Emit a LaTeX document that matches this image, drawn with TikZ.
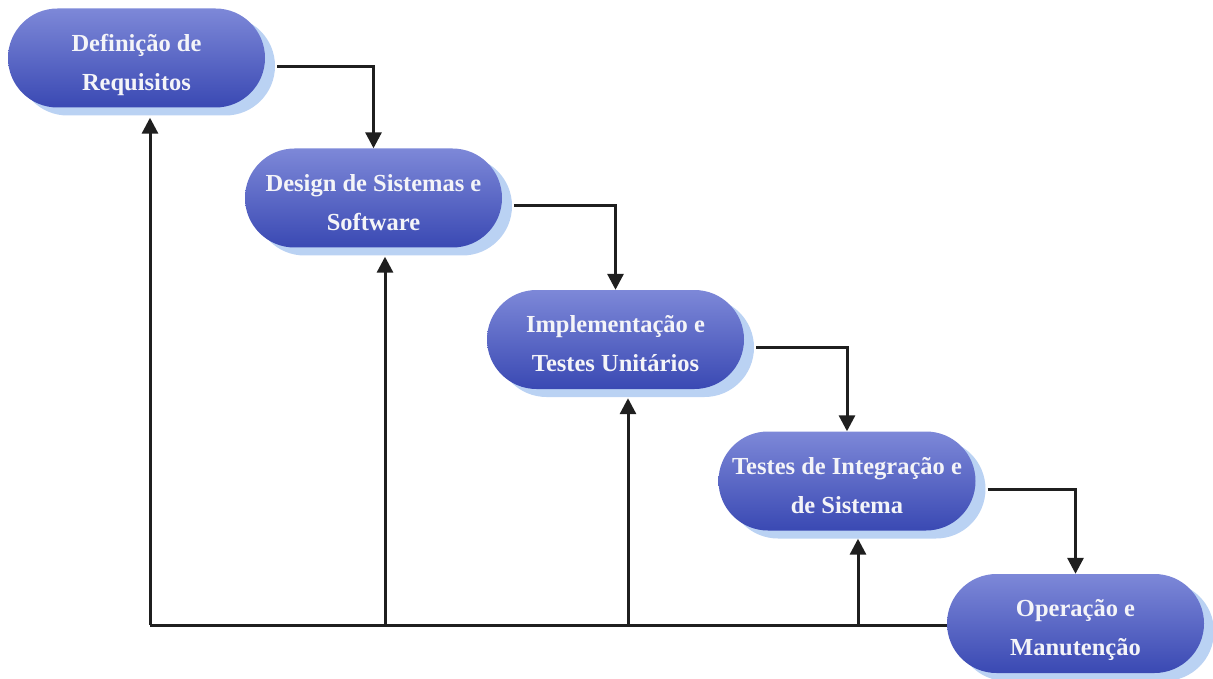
\documentclass[tikz,border=0pt]{standalone}
\usepackage{fontspec}
\setmainfont{Liberation Serif}
\usetikzlibrary{arrows.meta,shadows,calc}
\definecolor{boxtop}{HTML}{7D88D8}
\definecolor{boxbot}{HTML}{3A49B3}
\definecolor{shadowc}{HTML}{B3CDF2}
\definecolor{txt}{HTML}{F4F4F8}
\newcommand{\twolines}[2]{\raisebox{-5pt}[\height][\depth]{\begin{tabular}{@{}c@{}}#1\\#2\end{tabular}}}
\tikzset{
  phase/.style={rounded corners=49.5pt, minimum width=257pt, minimum height=99pt,
    top color=boxtop, bottom color=boxbot, draw=none, text=txt,
    font=\bfseries\fontsize{24.5}{39}\selectfont, inner sep=0pt,
    drop shadow={shadow xshift=10pt, shadow yshift=-8pt, fill=shadowc, opacity=0.9}},
  conn/.style={line width=3pt, draw=black!88, -{Triangle[width=16pt,length=16pt]}},
  plain/.style={line width=3pt, draw=black!88}
}
\begin{document}
\begin{tikzpicture}[x=1pt,y=-1pt]
\useasboundingbox (0,0) rectangle (1213,679);
\node[phase] (b1) at (136.5,58) {\twolines{Definição de}{Requisitos}};
\node[phase] (b2) at (373.5,198) {\twolines{Design de Sistemas e}{Software}};
\node[phase] (b3) at (615.5,339.5) {\twolines{Implementação e}{Testes Unitários}};
\node[phase] (b4) at (847,481) {\twolines{Testes de Integração e}{de Sistema}};
\node[phase] (b5) at (1075.5,623.5) {\twolines{Operação e}{Manutenção}};
% forward connectors
\draw[conn] ($(b1.east)+(12,9)$) -| (b2.north);
\draw[conn] ($(b2.east)+(12,8)$) -| (b3.north);
\draw[conn] ($(b3.east)+(12,8)$) -| (b4.north);
\draw[conn] ($(b4.east)+(12,8)$) -| (b5.north);
% feedback line
\coordinate (c1) at ($(b1.south)+(13.5,0)$);
\coordinate (c2) at ($(b2.south)+(11.5,0)$);
\coordinate (c3) at ($(b3.south)+(12.5,0)$);
\coordinate (c4) at ($(b4.south)+(11,0)$);
\draw[plain] (b5.west |- 0,625) -- (c1 |- 0,625) coordinate (f1);
\draw[conn] (f1) -- ($(c1)+(0,10)$);
\draw[conn] (c2 |- 0,625) -- ($(c2)+(0,9)$);
\draw[conn] (c3 |- 0,625) -- ($(c3)+(0,9)$);
\draw[conn] (c4 |- 0,625) -- ($(c4)+(0,8)$);
\end{tikzpicture}
\end{document}
